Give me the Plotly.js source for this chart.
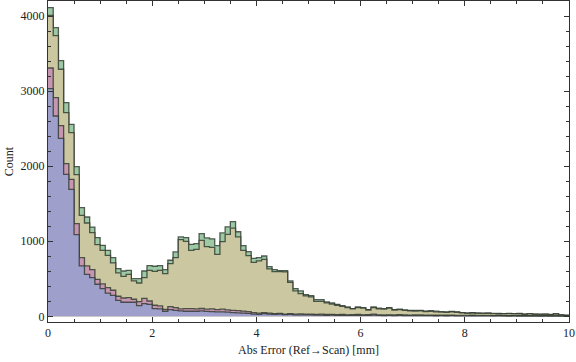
<!DOCTYPE html>
<html>
<head>
<meta charset="utf-8">
<script src="https://cdn.plot.ly/plotly-3.0.1.min.js"></script>
<style>html,body{margin:0;padding:0;background:#fff;}#chart{width:576px;height:362px;}</style>
</head>
<body>
<div id="chart"></div>
<script>
// Histogram bins: 0 to 10 mm, width 0.1 mm
const binStart = 0;
const binWidth = 0.1;

// Counts per bin, four overlaid layers
const greenCounts = [4115,3848,3408,2849,2559,1995,1449,1324,1190,1049,
  946,880,782,636,604,613,502,502,604,676,
  667,676,622,747,858,1058,1049,960,969,1102,
  1045,1033,942,1111,1193,1262,1127,942,862,773,
  782,804,662,622,609,609,471,370,338,289,
  276,222,222,191,178,160,142,124,102,124,
  116,89,124,107,102,116,89,95,85,80,
  78,80,70,75,68,62,60,65,60,50,
  45,50,45,42,45,40,38,35,40,35,
  38,30,35,30,28,30,25,35,20,15];
const tanCounts = [4010,3741,3293,2715,2449,1889,1346,1244,1116,956,
  880,813,711,578,533,560,471,444,515,613,
  600,613,569,702,782,1022,1000,880,893,1013,
  928,920,825,995,1093,1175,1058,880,809,720,
  738,760,631,595,595,591,453,340,302,271,
  258,200,200,178,164,147,133,116,98,116,
  108,84,116,100,96,108,84,88,78,74,
  70,72,64,66,60,56,52,58,54,45,
  40,44,40,38,40,36,34,32,35,31,
  34,27,31,27,25,27,22,30,18,13];
const pinkCounts = [3310,2915,2542,2035,1826,1236,783,671,622,493,
  431,382,347,267,244,249,227,196,240,204,
  147,138,93,129,116,98,102,102,98,104,
  95,100,90,95,85,80,75,70,62,48,
  42,50,42,36,40,30,35,30,32,28,
  30,26,28,24,26,22,24,20,22,24,
  20,22,30,20,18,20,18,22,18,16,
  20,18,15,16,14,16,14,15,12,13,
  12,14,12,11,12,10,11,10,9,10,
  9,8,9,8,7,8,7,8,6,5];
const blueCounts = [3035,2670,2373,1893,1693,1089,671,560,516,427,
  369,310,280,213,187,187,187,142,169,160,
  102,98,67,89,80,71,67,67,67,71,
  65,62,58,60,55,50,45,42,40,30,
  25,35,30,25,28,22,25,20,20,18,
  18,15,16,14,15,12,14,12,12,14,
  12,12,15,12,10,12,10,12,10,9,
  10,9,8,8,7,8,7,8,6,6,
  6,7,6,5,6,5,5,5,4,5,
  4,4,4,3,3,4,3,3,3,2];

const xTickVals = [0,2,4,6,8,10];
const xTickText = ["0","2","4","6","8","10"];
const yTickVals = [0,1000,2000,3000,4000];
const yTickText = ["0","1000","2000","3000","4000"];

function stepTrace(counts, fill) {
  const xs = [], ys = [];
  for (let i = 0; i < counts.length; i++) {
    xs.push(+(binStart + i * binWidth).toFixed(4));
    ys.push(counts[i]);
  }
  xs.push(+(binStart + counts.length * binWidth).toFixed(4));
  ys.push(counts[counts.length - 1]);
  return {
    type: 'scatter', mode: 'lines', x: xs, y: ys,
    line: {shape: 'hv', color: 'rgba(45,55,45,0.8)', width: 1.3},
    fill: 'tozeroy', fillcolor: fill, hoverinfo: 'skip', showlegend: false
  };
}

const data = [
  stepTrace(greenCounts, '#9dcaa5'),
  stepTrace(tanCounts, '#cbc7a0'),
  stepTrace(pinkCounts, '#c796b1'),
  stepTrace(blueCounts, '#9f9fcc')
];

const tickFont = {family: 'Liberation Serif, Times New Roman, serif', size: 12, color: '#222'};
const layout = {
  width: 576, height: 362,
  margin: {l: 48, r: 7, t: 1, b: 40},
  paper_bgcolor: '#fff', plot_bgcolor: '#fff',
  showlegend: false,
  xaxis: {
    range: [0, 10], tickmode: 'array', tickvals: xTickVals, ticktext: xTickText,
    ticks: 'inside', ticklen: 5, tickwidth: 1, tickcolor: '#333',
    minor: {dtick: 0.5, ticks: 'inside', ticklen: 3, tickcolor: '#333', showgrid: false},
    showline: true, linecolor: '#333', linewidth: 1, mirror: 'allticks',
    showgrid: false, zeroline: false, tickfont: tickFont,
    title: {text: 'Abs Error (Ref\u2192Scan) [mm]', font: tickFont, standoff: 6}
  },
  yaxis: {
    range: [-76, 4203], tickmode: 'array', tickvals: yTickVals, ticktext: yTickText,
    ticks: 'inside', ticklen: 5, tickwidth: 1, tickcolor: '#333',
    minor: {dtick: 200, ticks: 'inside', ticklen: 3, tickcolor: '#333', showgrid: false},
    showline: true, linecolor: '#333', linewidth: 1, mirror: 'allticks',
    showgrid: false, zeroline: false, tickfont: tickFont,
    title: {text: 'Count', font: tickFont, standoff: 4}
  }
};

Plotly.newPlot('chart', data, layout, {displayModeBar: false, staticPlot: true});
</script>
</body>
</html>
